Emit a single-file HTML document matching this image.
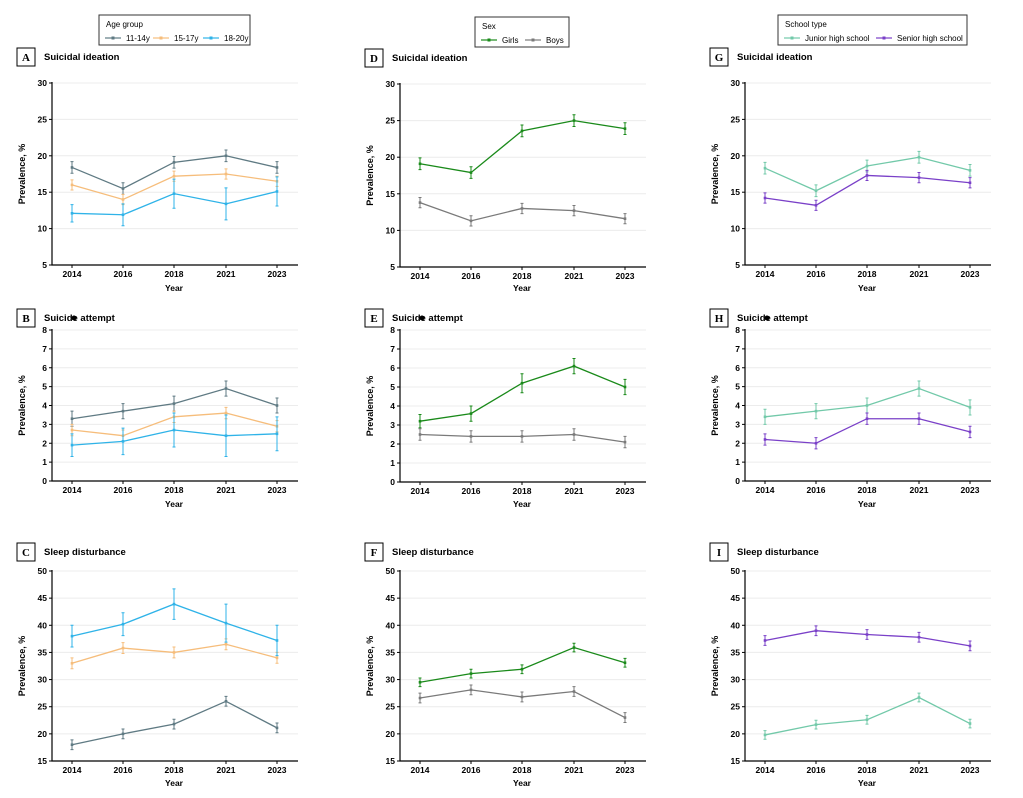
<!DOCTYPE html><html><head><meta charset="utf-8"><style>body{margin:0;background:#fff}svg{display:block;font-family:"Liberation Sans",Arial,sans-serif}</style></head><body>
<svg id="s" width="1023" height="798" xmlns="http://www.w3.org/2000/svg"></svg>
<script>
const S=document.getElementById('s');let h='';
const C={a:'#5f7a83',o:'#f6bd7b',b:'#2fb3e8',g:'#1a8a1a',k:'#7a7a7a',t:'#72c9a9',p:'#7a40c8'};
function panel(ax,y0,y1,vmin,vmax,step,letter,title,series,xlabY,by){
 const xs=[20,71,122,174,225].map(d=>ax+d);const right=ax+246;
 const Y=v=>y1-(v-vmin)/(vmax-vmin)*(y1-y0);
 for(let v=vmin;v<=vmax+1e-9;v+=step){const y=Y(v);
  if(v>vmin)h+=`<line x1="${ax}" x2="${right}" y1="${y}" y2="${y}" stroke="#ececec" stroke-width="1"/>`;
  h+=`<line x1="${ax-3}" x2="${ax}" y1="${y}" y2="${y}" stroke="#000"/><text x="${ax-5}" y="${y+3}" font-size="8.5" font-weight="bold" text-anchor="end">${v}</text>`;}
 h+=`<path d="M${ax} ${y0-1}V${y1}H${right}" fill="none" stroke="#000" stroke-width="1.2"/>`;
 ['2014','2016','2018','2021','2023'].forEach((l,i)=>{h+=`<line x1="${xs[i]}" x2="${xs[i]}" y1="${y1}" y2="${y1+3}" stroke="#000"/><text x="${xs[i]}" y="${y1+12}" font-size="8.5" font-weight="bold" text-anchor="middle">${l}</text>`;});
 h+=`<text x="${ax+122}" y="${xlabY}" font-size="8.5" font-weight="bold" text-anchor="middle">Year</text>`;
 const my=(y0+y1)/2;h+=`<text transform="translate(${ax-27},${my}) rotate(-90)" font-size="9" font-weight="bold" text-anchor="middle">Prevalence, %</text>`;
 const bx=ax-35;
 h+=`<rect x="${bx}" y="${by}" width="18" height="18" fill="none" stroke="#000"/><text x="${bx+9}" y="${by+13}" font-size="11" font-weight="bold" font-family="Liberation Serif,serif" text-anchor="middle">${letter}</text><text x="${bx+27}" y="${by+12}" font-size="9.5" font-weight="bold">${title}</text>`;
 if(title==='Suicide attempt')h+=`<circle cx="${bx+57}" cy="${by+9}" r="2.5" fill="#000"/>`;
 series.forEach(([c,vals,errs])=>{
  h+=`<polyline points="${vals.map((v,i)=>xs[i]+','+Y(v)).join(' ')}" fill="none" stroke="${c}" stroke-width="1.3"/>`;
  vals.forEach((v,i)=>{const e=Array.isArray(errs)?errs[i]:errs;const a=Y(v+e),b=Y(v-e);
   h+=`<path d="M${xs[i]} ${a}V${b}M${xs[i]-1.5} ${a}h3M${xs[i]-1.5} ${b}h3" stroke="${c}" stroke-width="1"/><rect x="${xs[i]-1.3}" y="${Y(v)-1.3}" width="2.6" height="2.6" fill="${c}"/>`;});
 });
}
function legend(x,y,w,title,items){h+=`<rect x="${x}" y="${y}" width="${w}" height="30" fill="#fff" stroke="#333"/><text x="${x+7}" y="${y+12}" font-size="8">${title}</text>`;
 items.forEach(([c,l,dx])=>{h+=`<line x1="${x+dx}" x2="${x+dx+16}" y1="${y+23}" y2="${y+23}" stroke="${c}" stroke-width="1.2"/><rect x="${x+dx+6.5}" y="${y+21.5}" width="3" height="3" fill="${c}"/><text x="${x+dx+21}" y="${y+26}" font-size="8">${l}</text>`;});}
legend(99,15,151,'Age group',[[C.a,'11-14y',6],[C.o,'15-17y',54],[C.b,'18-20y',104]]);
legend(475,17,94,'Sex',[[C.g,'Girls',6],[C.k,'Boys',50]]);
legend(778,15,189,'School type',[[C.t,'Junior high school',6],[C.p,'Senior high school',98]]);
panel(52,83,265,5,30,5,'A','Suicidal ideation',[[C.a,[18.4,15.5,19.1,20,18.4],.8],[C.o,[16,14,17.2,17.5,16.5],.7],[C.b,[12.1,11.9,14.8,13.4,15.1],[1.2,1.5,2,2.2,2]]],291,48);
panel(52,330,481,0,8,1,'B','Suicide attempt',[[C.a,[3.3,3.7,4.1,4.9,4],.4],[C.o,[2.7,2.4,3.4,3.6,2.9],.3],[C.b,[1.9,2.1,2.7,2.4,2.5],[.6,.7,.9,1.1,.9]]],507,309);
panel(52,571,761,15,50,5,'C','Sleep disturbance',[[C.a,[18,20,21.8,26,21.1],.9],[C.o,[33,35.8,35,36.5,34],1],[C.b,[38,40.2,43.9,40.4,37.2],[2,2.1,2.8,3.5,2.8]]],786,543);
panel(400,84,267,5,30,5,'D','Suicidal ideation',[[C.g,[19.1,17.9,23.6,25,23.9],.8],[C.k,[13.8,11.3,13,12.7,11.6],.7]],291,49);
panel(400,330,482,0,8,1,'E','Suicide attempt',[[C.g,[3.2,3.6,5.2,6.1,5],[.35,.4,.5,.4,.4]],[C.k,[2.5,2.4,2.4,2.5,2.1],.3]],507,309);
panel(400,571,761,15,50,5,'F','Sleep disturbance',[[C.g,[29.5,31.1,31.9,35.9,33.1],.8],[C.k,[26.6,28.1,26.8,27.8,23],.9]],786,543);
panel(745,83,265,5,30,5,'G','Suicidal ideation',[[C.t,[18.3,15.2,18.6,19.8,18],.8],[C.p,[14.2,13.2,17.3,17,16.3],.7]],291,48);
panel(745,330,481,0,8,1,'H','Suicide attempt',[[C.t,[3.4,3.7,4,4.9,3.9],.4],[C.p,[2.2,2,3.3,3.3,2.6],.3]],507,309);
panel(745,571,761,15,50,5,'I','Sleep disturbance',[[C.t,[19.8,21.7,22.6,26.7,21.9],.8],[C.p,[37.2,39,38.3,37.8,36.2],.9]],786,543);
S.innerHTML=h;
</script></body></html>
